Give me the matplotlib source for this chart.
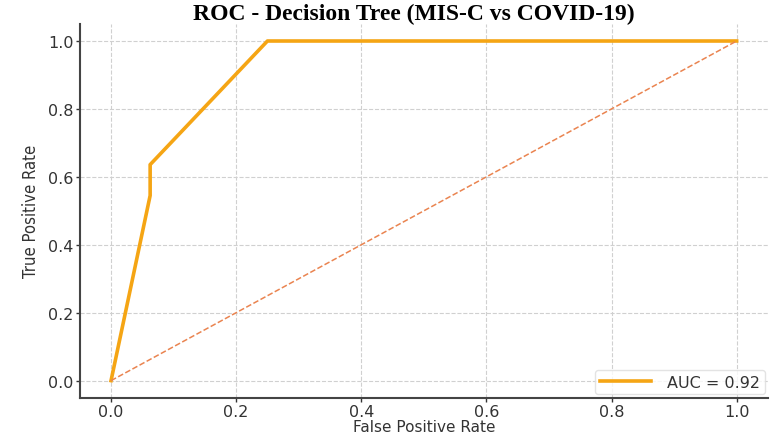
import matplotlib
matplotlib.use("Agg")
import matplotlib.pyplot as plt

plt.rcParams['font.family'] = ['DejaVu Sans']

# ROC points
fpr = [0.0, 0.0625, 0.0625, 0.25, 1.0]
tpr = [0.0, 0.545, 0.636, 1.0, 1.0]
auc_value = 0.92
chance = [0.0, 1.0]
ticks = [0.0, 0.2, 0.4, 0.6, 0.8, 1.0]

fig, ax = plt.subplots(figsize=(7.82, 4.39), dpi=100)
fig.subplots_adjust(left=0.102, right=0.982, top=0.943, bottom=0.092)

ax.plot(fpr, tpr, color='#F5A514', lw=2.6, label=f'AUC = {auc_value:.2f}')
ax.plot(chance, chance, color='#EA8450', lw=1.1, linestyle='--')

ax.set_xlim(-0.05, 1.05)
ax.set_ylim(-0.05, 1.05)
ax.set_xticks(ticks)
ax.set_yticks(ticks)
ax.set_xticklabels([f'{t:.1f}' for t in ticks])
ax.set_yticklabels([f'{t:.1f}' for t in ticks])
ax.tick_params(labelsize=11.5, colors='#333333', length=3, width=1, pad=1.5)
ax.grid(True, linestyle='--', color='#d0d0d0', lw=0.8)

for s in ['top', 'right']:
    ax.spines[s].set_visible(False)
for s in ['left', 'bottom']:
    ax.spines[s].set_color('#444444')
    ax.spines[s].set_linewidth(1.5)

ax.set_title('ROC - Decision Tree (MIS-C vs COVID-19)', fontfamily='Liberation Serif',
             fontweight='bold', fontsize=17, pad=3, x=0.485)
ax.set_xlabel('False Positive Rate', fontsize=11, color='#333333', labelpad=0)
ax.set_ylabel('True Positive Rate', fontsize=12, color='#333333', fontstretch='condensed',
              labelpad=6)

leg = ax.legend(loc='lower right', fontsize=11.5, frameon=True, borderpad=0.3,
                handlelength=3.2, handletextpad=1.0, borderaxespad=0.2)
leg.get_frame().set_edgecolor('#dddddd')
for t in leg.get_texts():
    t.set_color('#333333')

plt.savefig('out.png', dpi=100)
